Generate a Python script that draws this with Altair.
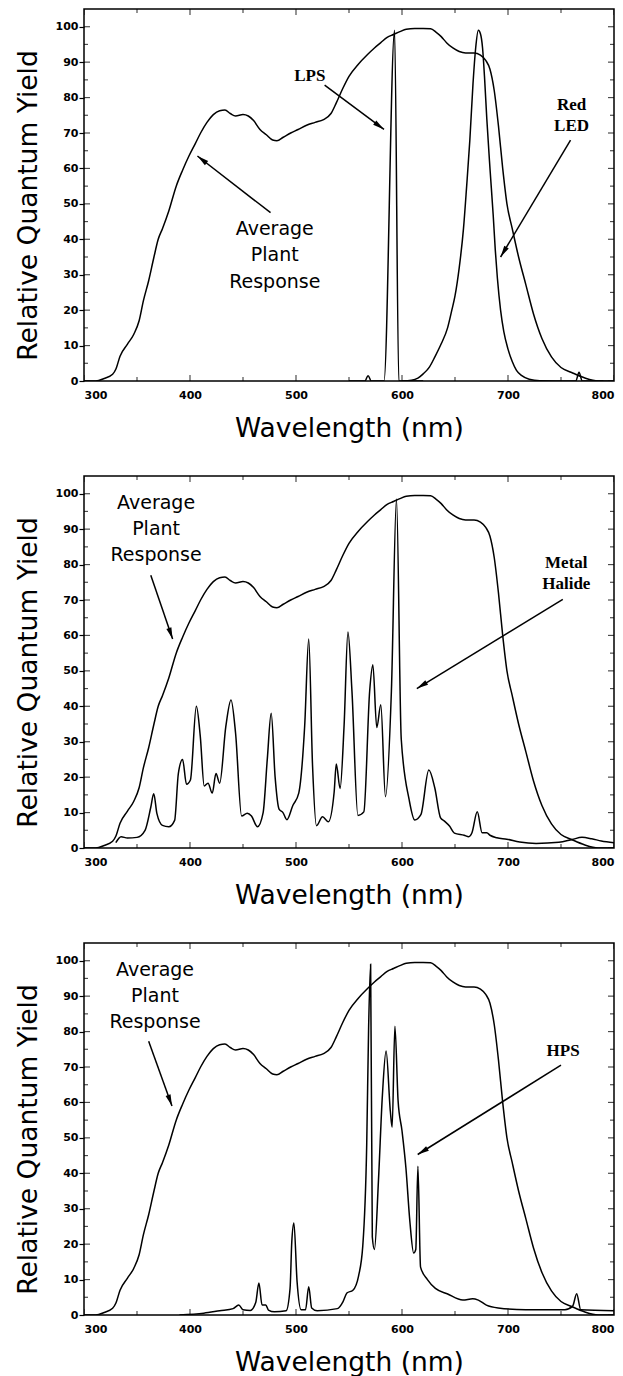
import math
import altair as alt
import pandas as pd

# ---------------- data ----------------
X_LABELS = [300, 400, 500, 600, 700, 800]
Y_LABELS = [0, 10, 20, 30, 40, 50, 60, 70, 80, 90, 100]
X_TICKS_MINOR = [350, 450, 550, 650, 750]
Y_TICKS_MINOR = [5, 15, 25, 35, 45, 55, 65, 75, 85, 95]

# Average plant response (McCree curve), same in all panels: (nm, relative yield)
PLANT = [(300, 0), (311, 0), (319, 0.7), (327, 1.9), (330, 3.3), (334, 7), (341, 10.4),
         (347, 13.2), (352, 17), (356, 22.6), (361, 28.3), (366, 35), (370, 40), (374, 43),
         (380, 48), (387, 55), (393, 59.5), (399, 63.5), (405, 67), (410, 70), (416, 73),
         (422, 75.2), (428, 76.3), (433, 76.5), (438, 75.5), (443, 74.8), (450, 75.2),
         (455, 74.8), (460, 73.5), (466, 71), (472, 69.5), (478, 68), (482, 67.8), (488, 68.8),
         (495, 70), (502, 71), (510, 72.2), (518, 73), (526, 73.8), (533, 75.5), (538, 78.5),
         (544, 82.5), (550, 86), (559, 89.5), (567, 92), (574, 94), (580, 95.5), (586, 97),
         (592, 97.8), (598, 98.6), (604, 99.3), (612, 99.5), (620, 99.5), (627, 99.4),
         (632, 98.5), (637, 97.2), (642, 95.5), (648, 94), (654, 93), (660, 92.6), (668, 92.6),
         (674, 92), (679, 90.5), (683, 88), (687, 82), (691, 72), (695, 60), (699, 50),
         (704, 43), (710, 35), (717, 27), (724, 19), (732, 12), (741, 6.8), (750, 3.8),
         (760, 2.4), (772, 0.9), (785, 0), (800, 0)]

# Low pressure sodium
LPS = [(550, 0), (565, 0), (568, 1.5), (571, 0), (583, 0), (593, 99), (597, 0), (620, 0)]

# Red LED
LED = [(600, 0), (609, 0.2), (615, 0.8), (620, 2), (626, 4), (631, 6.8), (637, 10.5),
       (643, 15), (647, 20), (650, 24), (654, 32), (658, 43), (661, 55), (664, 68), (667, 84),
       (669.5, 94), (672, 99), (674, 98), (676, 94), (678, 85), (680, 74), (683, 60), (686, 47),
       (688, 37), (690, 29), (693, 20), (696, 14), (700, 9), (704, 5.5), (708, 3), (713, 1.5),
       (720, 0.5), (730, 0.1), (760, 0), (764, 0), (767, 2.5), (770, 0), (790, 0)]

# Metal halide
MH = [(330, 1.5), (335, 3.2), (341, 2.8), (350, 3), (357.6, 5), (363, 11.5), (365.8, 15.3),
      (368.8, 9.7), (374, 6.4), (380, 6), (385.5, 7.8), (389, 21), (393, 25), (396.7, 18),
      (400.4, 19.2), (406, 40), (409.7, 31.5), (413.4, 17.5), (417, 18.3), (421, 15.5),
      (424.5, 21), (428, 18.3), (433.8, 34.3), (438.7, 41.8), (443, 32.4), (448.7, 9),
      (454, 9.8), (458, 9), (463.6, 6), (469, 10), (472.9, 25), (476.6, 38), (480.3, 20),
      (484, 11), (487.7, 10), (491.4, 8), (497, 12), (502.6, 15.5), (508.2, 34.5), (512, 59),
      (515.6, 23.3), (519.3, 6.3), (525, 8.8), (530.5, 7.4), (536, 15.8), (538, 23.7),
      (541.6, 16.8), (545.4, 34.8), (549, 61), (552.8, 44.2), (558.4, 9.2), (564, 10.2),
      (569.5, 44.3), (572.5, 51.7), (576.2, 34), (580, 40.4), (584.4, 14.5), (590, 44.3),
      (594.8, 98.5), (599.3, 30.7), (606.7, 13.7), (612, 7.9), (617.8, 9.4), (625.3, 22),
      (630.9, 17), (636.4, 8.5), (640, 7.6), (644.8, 6.2), (649.4, 4.2), (658.6, 3.6),
      (663, 3.2), (666, 4.3), (671, 10.2), (675.6, 4.3), (680, 4.3), (683, 3.6), (689.5, 2.9),
      (698.8, 2.5), (711, 1.7), (726.5, 1.3), (748, 1.6), (760.5, 2.4), (769.8, 3), (779, 2.6),
      (788, 2), (800, 1.5)]

# High pressure sodium
HPS = [(390, 0), (413, 0.5), (428, 1.2), (440.7, 1.8), (446, 2.8), (450, 1.5), (457, 1.3),
       (462, 3.5), (465, 9), (468, 2.8), (471.5, 2.8), (474, 1.4), (479.6, 0.9), (490.7, 1.2),
       (494.4, 7.5), (496, 20.5), (498, 26), (501, 9.5), (504.8, 1.5), (509, 1.5), (512, 8),
       (514.8, 2), (520, 1.2), (539, 1.8), (544.4, 3.8), (548, 6.2), (553.7, 7), (559, 11),
       (563, 19.5), (566.7, 48), (568.5, 81), (570.4, 99), (572, 22), (574, 18.5),
       (577.8, 38), (581.5, 62), (585, 74.5), (589, 57.5), (590.7, 53), (593.3, 81.5),
       (596.3, 60.5), (600, 52), (603.7, 41.5), (607.4, 26.5), (611, 17.5), (613, 18.5),
       (615, 42), (617.5, 13.5), (624, 10), (631.5, 7.5), (642.6, 6), (657.4, 4.2),
       (666.7, 4.6), (672, 4.2), (679.6, 2.8), (690.7, 2), (716.7, 1.5), (753.7, 1.5),
       (761, 2.5), (764.8, 6), (768.6, 1.5), (800, 1.2)]

# annotations: (nm, yield, text)
P1_SANS = [(480, 43, "Average"), (480, 35.5, "Plant"), (480, 28, "Response")]
P1_SERIF = [(513, 86, "LPS"), (760, 78, "Red"), (760, 72, "LED")]
P2_SANS = [(368, 97.3, "Average"), (368, 90, "Plant"), (368, 82.7, "Response")]
P2_SERIF = [(755, 80.5, "Metal"), (755, 74.5, "Halide")]
P3_SANS = [(367, 97.3, "Average"), (367, 90, "Plant"), (367, 82.7, "Response")]
P3_SERIF = [(752, 74.5, "HPS")]

# arrows: (from nm, from yield, to nm, to yield)
P1_ARROWS = [(476, 47.5, 407, 63.5), (527, 83.5, 583, 71), (759, 68, 693, 35)]
P2_ARROWS = [(363, 77, 383.6, 59), (751.7, 70.2, 614, 45)]
P3_ARROWS = [(361, 77.3, 383, 59), (750, 70.5, 614.8, 45.3)]

# ---------------- layout / style ----------------
W, H = 530, 372
X_DOMAIN = [300, 800]
Y_DOMAIN = [0, 105]
PX_NM = W / (X_DOMAIN[1] - X_DOMAIN[0])
PX_Y = H / (Y_DOMAIN[1] - Y_DOMAIN[0])

SANS = "DejaVu Sans"
SERIF = "Liberation Serif"
HEAD = "M0,0L0.5,2.2L-0.5,2.2Z"

xs = alt.Scale(domain=X_DOMAIN, nice=False, zero=False)
ys = alt.Scale(domain=Y_DOMAIN, nice=False, zero=False)

X_AXIS = alt.Axis(values=X_LABELS, title="Wavelength (nm)", ticks=False, domain=False, grid=False,
                  labelFont=SANS, labelFontWeight="bold", labelFontSize=11, labelColor="black",
                  labelPadding=8, titleFont=SANS, titleFontSize=26.5, titleFontWeight="normal",
                  titleColor="black", titlePadding=15)
Y_AXIS = alt.Axis(values=Y_LABELS, title="Relative Quantum Yield", ticks=True, tickSize=5,
                  tickColor="black", tickWidth=1.2, domain=False, grid=False,
                  labelFont=SANS, labelFontWeight="bold", labelFontSize=11,
                  labelColor="black", labelPadding=1, titleFont=SANS, titleFontSize=26.5,
                  titleFontWeight="normal", titleColor="black", titlePadding=13,
                  titleY=H / 2 + 10)


def X(field):
    return alt.X(field, scale=xs, axis=X_AXIS, title="Wavelength (nm)")


def Y(field):
    return alt.Y(field, scale=ys, axis=Y_AXIS, title="Relative Quantum Yield")


def curve(points):
    df = pd.DataFrame(points, columns=["nm", "v"])
    return alt.Chart(df).mark_line(color="black", strokeWidth=1.5, interpolate="monotone",
                                   clip=True).encode(x=X("nm:Q"), y=Y("v:Q"))


def texts(items, font, size, weight):
    df = pd.DataFrame(items, columns=["nm", "v", "t"])
    return alt.Chart(df).mark_text(font=font, fontSize=size, fontWeight=weight, color="black",
                                   align="center", baseline="middle").encode(
        x=X("nm:Q"), y=Y("v:Q"), text="t:N")


def arrows(items):
    rows = []
    for x1, y1, x2, y2 in items:
        ang = math.degrees(math.atan2((x2 - x1) * PX_NM, (y2 - y1) * PX_Y)) % 360
        rows.append(dict(nm=x1, v=y1, nm2=x2, v2=y2, ang=ang))
    df = pd.DataFrame(rows)
    shaft = alt.Chart(df).mark_rule(color="black", strokeWidth=1.5).encode(
        x=X("nm:Q"), y=Y("v:Q"), x2="nm2:Q", y2="v2:Q")
    head = alt.Chart(df).mark_point(shape=HEAD, filled=True, size=110, color="black",
                                    opacity=1).encode(
        x=X("nm2:Q"), y=Y("v2:Q"), angle=alt.Angle("ang:Q", scale=None))
    return [shaft, head]


def frame_ticks():
    layers = []
    for vals, size in ((Y_LABELS, 12), (Y_TICKS_MINOR, 8)):
        for edge in X_DOMAIN:
            df = pd.DataFrame({"v": vals, "nm": [edge] * len(vals)})
            layers.append(alt.Chart(df).mark_tick(orient="horizontal", size=size, thickness=1.2,
                                                  color="black", clip=True).encode(
                x=X("nm:Q"), y=Y("v:Q")))
    for vals, size in ((X_LABELS, 12), (X_TICKS_MINOR, 8)):
        for edge in Y_DOMAIN:
            df = pd.DataFrame({"nm": vals, "v": [edge] * len(vals)})
            layers.append(alt.Chart(df).mark_tick(orient="vertical", size=size, thickness=1.2,
                                                  color="black", clip=True).encode(
                x=X("nm:Q"), y=Y("v:Q")))
    return layers


def panel(lamps, sans, serif, arrow_items):
    layers = [curve(PLANT)] + [curve(l) for l in lamps]
    layers += [texts(sans, SANS, 19, "normal"), texts(serif, SERIF, 17, "bold")]
    layers += arrows(arrow_items)
    layers += frame_ticks()
    return alt.layer(*layers).properties(width=W, height=H)


chart = alt.vconcat(
    panel([LPS, LED], P1_SANS, P1_SERIF, P1_ARROWS),
    panel([MH], P2_SANS, P2_SERIF, P2_ARROWS),
    panel([HPS], P3_SANS, P3_SERIF, P3_ARROWS),
    spacing=32,
).properties(
    padding={"left": 6, "top": 0, "right": 0, "bottom": 0}
).configure_view(stroke="black", strokeWidth=1.5)

chart.save("out.html", embed_options={"renderer": "svg", "actions": False})
